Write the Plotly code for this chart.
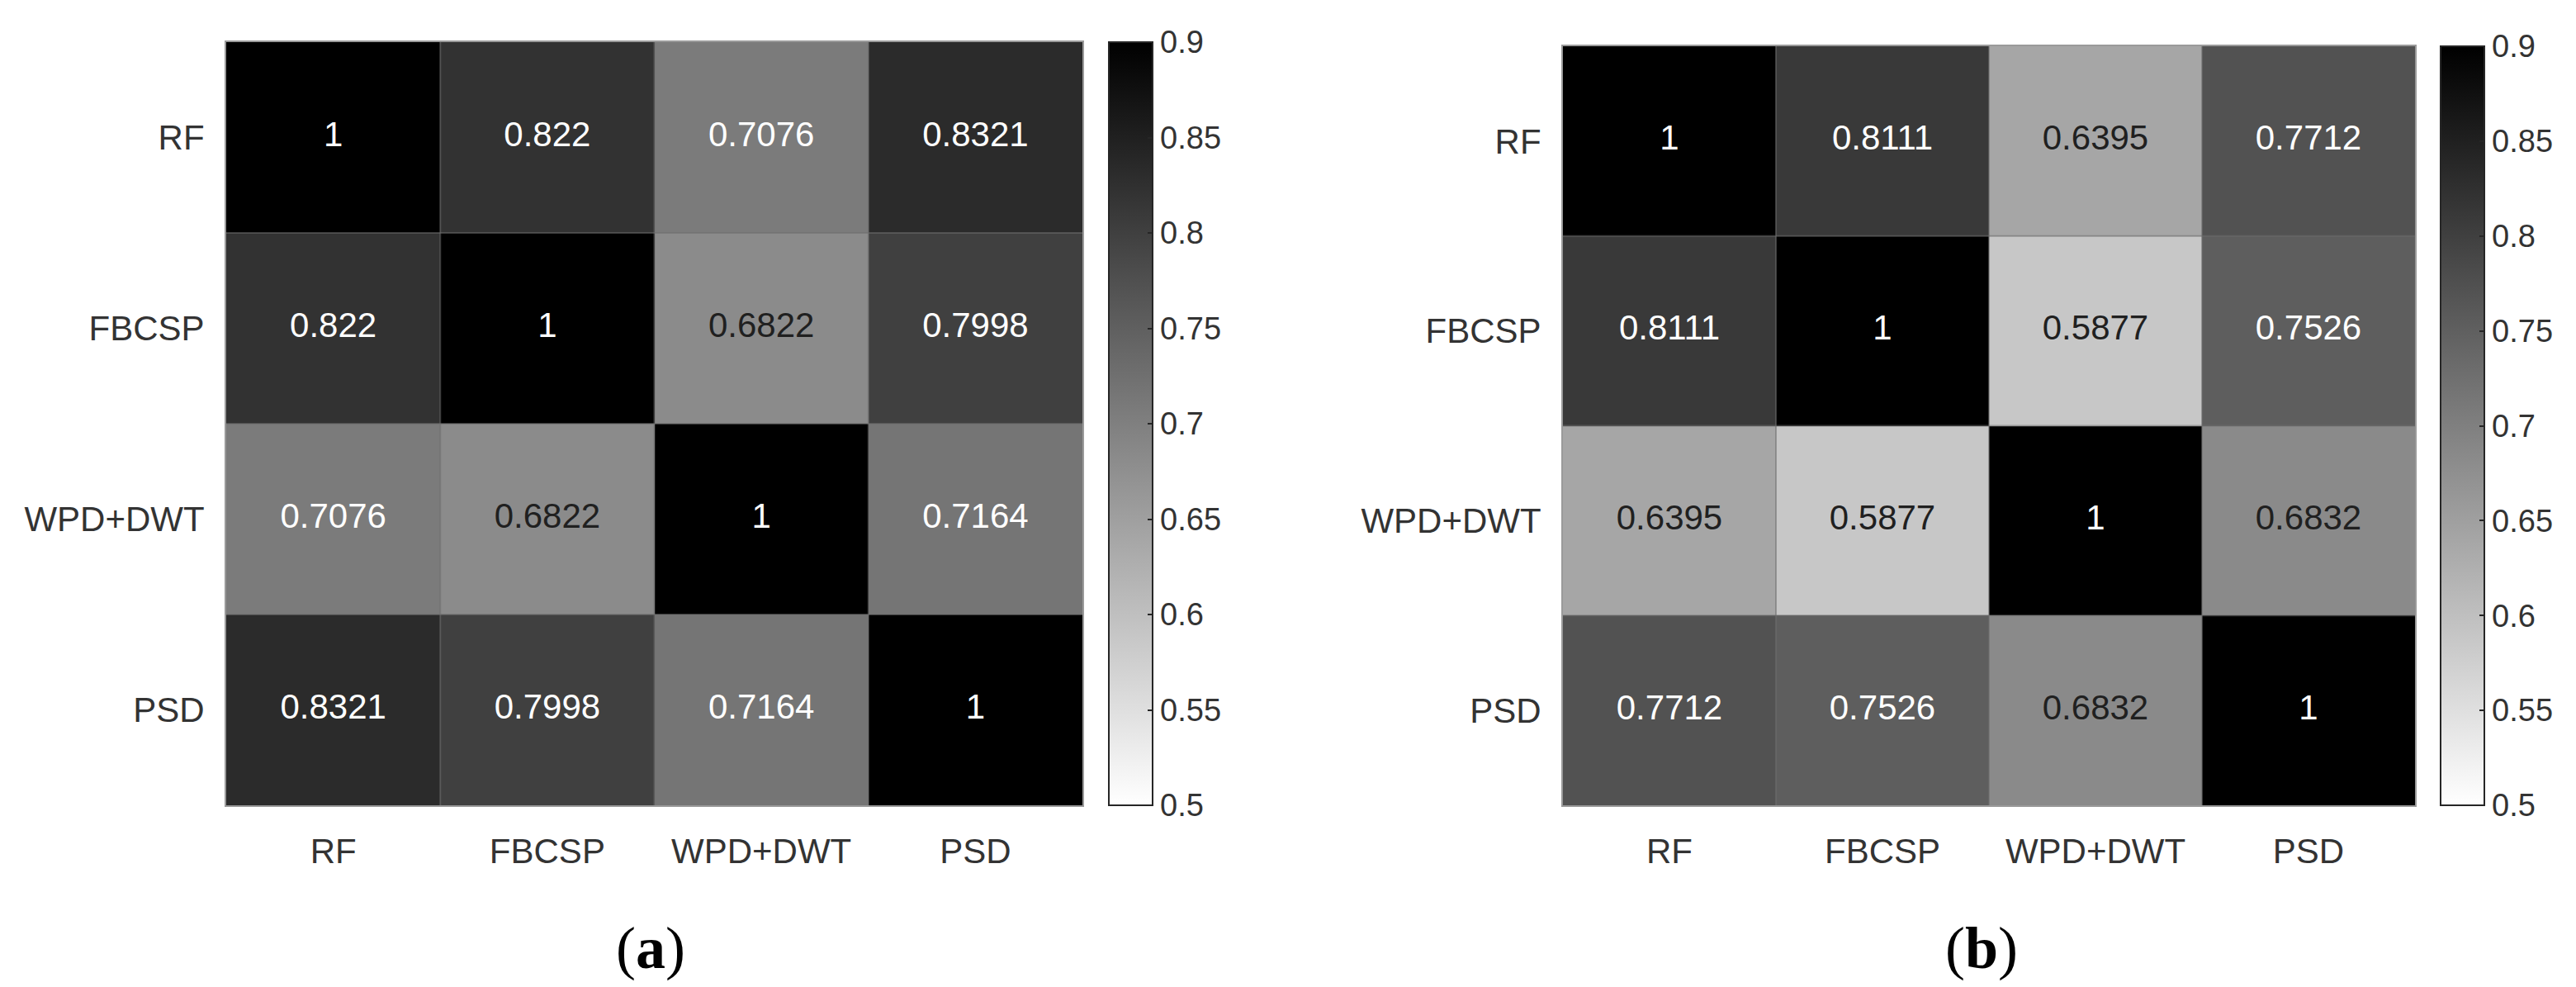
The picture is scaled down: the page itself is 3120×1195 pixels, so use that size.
import plotly.graph_objects as go

labels = ["RF", "FBCSP", "WPD+DWT", "PSD"]

corr_a = [
    [1.0, 0.822, 0.7076, 0.8321],
    [0.822, 1.0, 0.6822, 0.7998],
    [0.7076, 0.6822, 1.0, 0.7164],
    [0.8321, 0.7998, 0.7164, 1.0],
]
corr_b = [
    [1.0, 0.8111, 0.6395, 0.7712],
    [0.8111, 1.0, 0.5877, 0.7526],
    [0.6395, 0.5877, 1.0, 0.6832],
    [0.7712, 0.7526, 0.6832, 1.0],
]
panel_labels = ["(<b>a</b>)", "(<b>b</b>)"]
cbar_ticks = [0.5, 0.55, 0.6, 0.65, 0.7, 0.75, 0.8, 0.85, 0.9]
cbar_ticktext = ["0.5", "0.55", "0.6", "0.65", "0.7", "0.75", "0.8", "0.85", "0.9"]

ZMIN, ZMAX = 0.5, 0.9
W, H = 3120, 1195

# panel geometry in pixels (left, right, top, bottom) and colorbar left
panels = [
    dict(l=266, r=1303, t=43, b=967, cb=1335, lab=(780, 1140)),
    dict(l=1885, r=2917, t=48, b=967, cb=2948, lab=(2392, 1140)),
]

AXCOL = "#333333"
fig = go.Figure()
n = len(labels)

for k, (mat, p) in enumerate(zip([corr_a, corr_b], panels)):
    xa = "x" if k == 0 else "x2"
    ya = "y" if k == 0 else "y2"
    fig.add_trace(go.Heatmap(
        z=mat, x=labels, y=labels,
        xaxis=xa, yaxis=ya,
        zmin=ZMIN, zmax=ZMAX,
        colorscale=[[0, "#ffffff"], [1, "#000000"]],
        hoverinfo="skip",
        colorbar=dict(
            x=p["cb"] / W, xanchor="left", xpad=0,
            y=1 - p["t"] / H, yanchor="top", ypad=0,
            len=p["b"] - p["t"], lenmode="pixels",
            thickness=53, thicknessmode="pixels",
            outlinecolor="#262626", outlinewidth=2,
            tickvals=cbar_ticks, ticktext=cbar_ticktext,
            ticks="inside", ticklen=7, tickwidth=2, tickcolor="#262626",
            tickfont=dict(family="Liberation Sans, Arial", size=38, color=AXCOL),
        ),
    ))
    # cell text
    xs, ys, ts, cs = [], [], [], []
    for i in range(n):
        for j in range(n):
            v = mat[i][j]
            xs.append(labels[j])
            ys.append(labels[i])
            ts.append(f"{v:g}")
            lvl = (min(max(v, ZMIN), ZMAX) - ZMIN) / (ZMAX - ZMIN)
            cs.append("#ffffff" if lvl > 0.5 else "#202020")
    fig.add_trace(go.Scatter(
        x=xs, y=ys, text=ts, mode="text",
        xaxis=xa, yaxis=ya,
        textfont=dict(family="Liberation Sans, Arial", size=42, color=cs),
        hoverinfo="skip", showlegend=False,
    ))
    # cell boundary lines
    for i in range(1, n):
        fig.add_shape(type="line", xref=xa, yref=ya,
                      x0=i - 0.5, x1=i - 0.5, y0=-0.5, y1=n - 0.5,
                      line=dict(color="rgba(110,110,110,0.55)", width=2))
        fig.add_shape(type="line", xref=xa, yref=ya,
                      x0=-0.5, x1=n - 0.5, y0=i - 0.5, y1=i - 0.5,
                      line=dict(color="rgba(110,110,110,0.55)", width=2))
    fig.add_annotation(
        x=p["lab"][0] / W, y=1 - p["lab"][1] / H, xref="paper", yref="paper",
        text=panel_labels[k], showarrow=False, xanchor="center", yanchor="middle",
        font=dict(family="Liberation Serif, Times New Roman", size=72, color="#000000"),
    )

axis_common = dict(
    showgrid=False, zeroline=False, showline=True, mirror=True,
    linecolor="#9a9a9a", linewidth=2,
    tickfont=dict(family="Liberation Sans, Arial", size=42, color=AXCOL),
    ticks="outside", tickcolor="rgba(0,0,0,0)",
)

p0, p1 = panels
fig.update_layout(
    width=W, height=H,
    margin=dict(l=0, r=0, t=0, b=0),
    paper_bgcolor="white", plot_bgcolor="white",
    showlegend=False,
    xaxis=dict(domain=[p0["l"] / W, p0["r"] / W], anchor="y", ticklen=18,
               range=[-0.5, n - 0.5], **axis_common),
    yaxis=dict(domain=[1 - p0["b"] / H, 1 - p0["t"] / H], anchor="x", ticklen=16,
               range=[n - 0.5, -0.5], **axis_common),
    xaxis2=dict(domain=[p1["l"] / W, p1["r"] / W], anchor="y2", ticklen=18,
                range=[-0.5, n - 0.5], **axis_common),
    yaxis2=dict(domain=[1 - p1["b"] / H, 1 - p1["t"] / H], anchor="x2", ticklen=16,
                range=[n - 0.5, -0.5], **axis_common),
)

fig.write_html("out.html")
